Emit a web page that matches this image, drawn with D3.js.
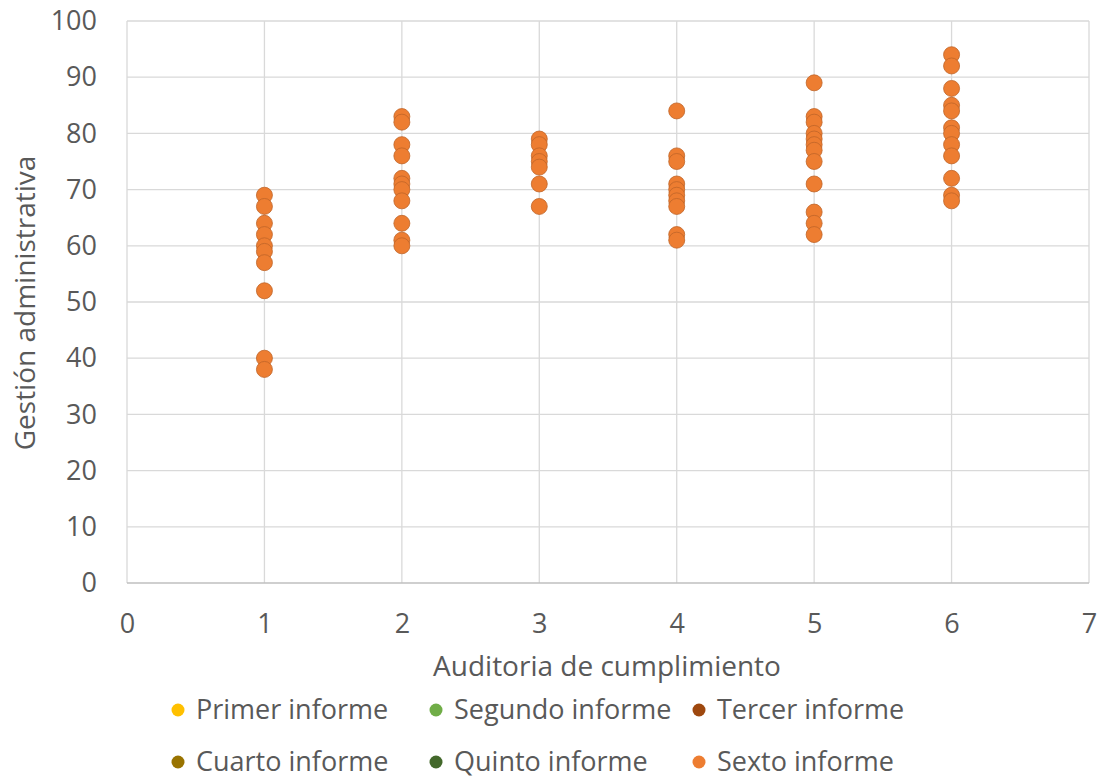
<!DOCTYPE html>
<html>
<head>
<meta charset="utf-8">
<script src="https://cdn.jsdelivr.net/npm/d3@7"></script>
<style>
  html, body { margin: 0; padding: 0; background: #fff; }
  svg { display: block; font-family: "Open Sans", "Liberation Sans", sans-serif; }
</style>
</head>
<body>
<svg id="chart" width="1103" height="780"></svg>
<script>
// ---- Data ----
const xTicks = [0, 1, 2, 3, 4, 5, 6, 7];
const yTicks = [0, 10, 20, 30, 40, 50, 60, 70, 80, 90, 100];
const seriesNames = ["Primer informe", "Segundo informe", "Tercer informe", "Cuarto informe", "Quinto informe", "Sexto informe"];
const seriesColors = ["#FFC000", "#70AD47", "#9E480E", "#997300", "#43682B", "#ED7D31"];

// Sexto informe: x = auditoría de cumplimiento, y = gestión administrativa
const x1 = [1, 1, 1, 1, 1, 1, 1, 1, 1, 1];
const y1 = [69, 67, 64, 62, 60, 59, 57, 52, 40, 38];
const x2 = [2, 2, 2, 2, 2, 2, 2, 2, 2, 2, 2];
const y2 = [83, 82, 78, 76, 72, 71, 70, 68, 64, 61, 60];
const x3 = [3, 3, 3, 3, 3, 3, 3];
const y3 = [79, 78, 76, 75, 74, 71, 67];
const x4 = [4, 4, 4, 4, 4, 4, 4, 4, 4, 4];
const y4 = [84, 76, 75, 71, 70, 69, 68, 67, 62, 61];
const x5 = [5, 5, 5, 5, 5, 5, 5, 5, 5, 5, 5, 5];
const y5 = [89, 83, 82, 80, 79, 78, 77, 75, 71, 66, 64, 62];
const x6 = [6, 6, 6, 6, 6, 6, 6, 6, 6, 6, 6, 6];
const y6 = [94, 92, 88, 85, 84, 81, 80, 78, 76, 72, 69, 68];

const sextoX = [...x1, ...x2, ...x3, ...x4, ...x5, ...x6];
const sextoY = [...y1, ...y2, ...y3, ...y4, ...y5, ...y6];

// Other series are hidden beneath the last one in the picture
const seriesData = [[], [], [], [], [], sextoX.map((x, i) => ({x, y: sextoY[i]}))];

// ---- Layout ----
const svg = d3.select("#chart");
const margin = {left: 127, right: 1089, top: 21, bottom: 583};
const x = d3.scaleLinear().domain([0, 7]).range([margin.left, margin.right]);
const y = d3.scaleLinear().domain([0, 100]).range([margin.bottom, margin.top]);
const textColor = "#595959";
const fontSize = 27;

// gridlines
svg.append("g").selectAll("line.h").data(yTicks.filter(d => d > 0)).join("line")
  .attr("x1", margin.left).attr("x2", margin.right)
  .attr("y1", d => y(d)).attr("y2", d => y(d))
  .attr("stroke", "#d9d9d9").attr("stroke-width", 1.3);
svg.append("g").selectAll("line.v").data(xTicks).join("line")
  .attr("x1", d => x(d)).attr("x2", d => x(d))
  .attr("y1", margin.top).attr("y2", margin.bottom)
  .attr("stroke", "#d9d9d9").attr("stroke-width", 1.3);
// bottom axis line
svg.append("line")
  .attr("x1", margin.left).attr("x2", margin.right)
  .attr("y1", y(0)).attr("y2", y(0))
  .attr("stroke", "#bfbfbf").attr("stroke-width", 1.3);

// axes labels via d3 axes
const yAxis = svg.append("g").attr("transform", `translate(${margin.left},0)`)
  .call(d3.axisLeft(y).tickValues(yTicks).tickFormat(d3.format("d")).tickSize(0).tickPadding(30));
const xAxis = svg.append("g").attr("transform", `translate(0,${margin.bottom})`)
  .call(d3.axisBottom(x).tickValues(xTicks).tickFormat(d3.format("d")).tickSize(0).tickPadding(31));
[yAxis, xAxis].forEach(g => {
  g.select(".domain").remove();
  g.selectAll("text").attr("fill", textColor).attr("font-size", fontSize)
    .attr("font-family", "'Open Sans', sans-serif");
});

// axis titles
svg.append("text").attr("x", 607).attr("y", 676).attr("text-anchor", "middle")
  .attr("fill", textColor).attr("font-size", 28).text("Auditoria de cumplimiento");
svg.append("text").attr("transform", "translate(35,303) rotate(-90)")
  .attr("text-anchor", "middle").attr("fill", textColor).attr("font-size", 28)
  .text("Gestión administrativa");

// points
seriesData.forEach((data, i) => {
  svg.append("g").selectAll("circle").data(data).join("circle")
    .attr("cx", d => x(d.x)).attr("cy", d => y(d.y)).attr("r", 8)
    .attr("fill", seriesColors[i])
    .attr("stroke", d3.color(seriesColors[i]).darker(0.6)).attr("stroke-width", 0.8);
});

// legend
const legendPos = [[178, 710], [436, 710], [699, 710], [178, 762], [436, 762], [699, 762]];
const legend = svg.append("g").selectAll("g").data(seriesNames).join("g")
  .attr("transform", (d, i) => `translate(${legendPos[i][0]},${legendPos[i][1]})`);
legend.append("circle").attr("r", 6.5).attr("fill", (d, i) => seriesColors[i]);
legend.append("text").attr("x", 18).attr("dy", "0.35em").attr("fill", textColor)
  .attr("font-size", 27).text(d => d);
</script>
</body>
</html>
